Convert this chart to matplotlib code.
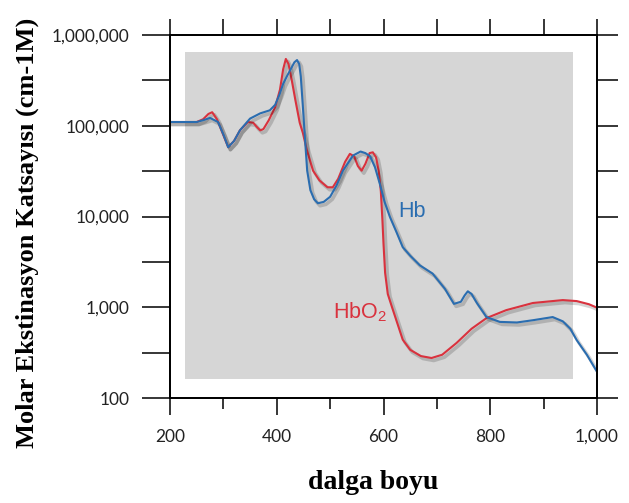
import numpy as np
import matplotlib
matplotlib.use("Agg")
import matplotlib.pyplot as plt
import matplotlib.patheffects as pe
from matplotlib.patches import Rectangle
from matplotlib.ticker import FixedLocator, NullFormatter

# ------------------------------------------------------------
# Data (wavelength nm, molar extinction)
# ------------------------------------------------------------
hb_wl = [200, 250, 262, 275, 290, 300, 309, 320, 331, 350, 369, 387, 397,
         405, 412, 420, 428, 433, 438, 442, 445, 449, 453, 457, 463, 470,
         477, 488, 500, 512, 524, 543, 557, 566, 575, 584, 593, 602, 612,
         624, 636, 650, 668, 692, 715, 732, 745, 752, 758, 765, 775, 793,
         818, 850, 880, 917, 936, 950, 962, 981, 1000]
hb_eps = [110000, 110000, 115000, 122000, 110000, 80000, 58000, 68000, 89000,
          120000, 137000, 148000, 170000, 220000, 290000, 360000, 440000,
          500000, 530000, 480000, 350000, 160000, 70000, 32000, 19500, 15500,
          14000, 14500, 16500, 22000, 32000, 47000, 52000, 50000, 46000,
          35000, 23000, 14500, 9900, 6800, 4600, 3700, 2900, 2350, 1600,
          1090, 1150, 1350, 1500, 1400, 1115, 780, 690, 680, 720, 780, 700,
          580, 435, 300, 195]

hbo2_wl = [200, 250, 262, 272, 279, 288, 296, 309, 320, 331, 346, 356, 362,
           369, 375, 385, 397, 406, 412, 417, 422, 428, 435, 443, 449, 456,
           468, 480, 495, 505, 515, 528, 537, 545, 552, 559, 566, 574, 580,
           586, 591, 595, 598, 600, 603, 608, 616, 636, 650, 670, 690, 710,
           737, 765, 793, 830, 880, 936, 962, 985, 1000]
hbo2_eps = [110000, 110000, 118000, 135000, 141000, 118000, 90000, 58000,
            68000, 89000, 110000, 108000, 98000, 89000, 92000, 115000, 160000,
            250000, 420000, 545000, 480000, 320000, 190000, 108000, 83000,
            55000, 32000, 25000, 21000, 21000, 26000, 40000, 49000, 46000,
            36000, 32000, 38000, 50000, 51000, 45000, 32000, 19000, 9000,
            5000, 2400, 1400, 1000, 440, 340, 290, 276, 300, 405, 580, 760,
            930, 1115, 1200, 1170, 1080, 990]

x_ticks = [200, 400, 600, 800, 1000]
x_ticklabels = ["200", "400", "600", "800", "1,000"]
y_ticks = [100, 1000, 10000, 100000, 1000000]
y_ticklabels = ["100", "1,000", "10,000", "100,000", "1,000,000"]

BLUE = "#2a6db0"
RED = "#d9323e"
BG_GRAY = "#d6d6d6"
TICK_FONT = "Lato"
LABEL_FONT = "Liberation Serif"

XLIM = (200, 1000)
YLIM = (100, 1000000)

plt.rcParams["mathtext.fontset"] = "custom"
plt.rcParams["mathtext.rm"] = "Liberation Sans"
plt.rcParams["mathtext.default"] = "rm"

fig = plt.figure(figsize=(6.29, 5.03), dpi=100)
ax = fig.add_axes([0.2703, 0.2087, 0.6788, 0.7217])
ax.set_yscale("log")
ax.set_xlim(*XLIM)
ax.set_ylim(*YLIM)

# gray plotting panel
ax.add_patch(Rectangle((228, 162), 955 - 228, 650000 - 162,
                       facecolor=BG_GRAY, edgecolor="none", zorder=0))

shadow = [pe.SimpleLineShadow(offset=(1.6, -1.8), shadow_color="black",
                              alpha=0.17, linewidth=2.6), pe.Normal()]
ax.plot(hbo2_wl, hbo2_eps, color=RED, lw=1.5, path_effects=shadow, zorder=3)
ax.plot(hb_wl, hb_eps, color=BLUE, lw=1.5, path_effects=shadow, zorder=4)

ax.text(627, 11500, "Hb", color=BLUE, fontsize=15.5, family="Liberation Sans",
        ha="left", va="center")
ax.text(505, 760, "HbO$_2$", color=RED, fontsize=15.5, family="Liberation Sans",
        ha="left", va="baseline")

# spines and ticks
for s in ax.spines.values():
    s.set_linewidth(1.1)
ax.xaxis.set_major_locator(FixedLocator(x_ticks))
ax.xaxis.set_minor_locator(FixedLocator([300, 500, 700, 900]))
ax.set_xticklabels(x_ticklabels)
ax.xaxis.set_minor_formatter(NullFormatter())
ax.yaxis.set_major_locator(FixedLocator(y_ticks))
ax.yaxis.set_minor_locator(FixedLocator([10 ** (k + 0.5) for k in range(2, 6)]))
ax.set_yticklabels(y_ticklabels)
ax.yaxis.set_minor_formatter(NullFormatter())
ax.tick_params(axis="x", which="major", direction="out", length=12, width=1.1, pad=10)
ax.tick_params(axis="x", which="minor", direction="out", length=8, width=1.1)
ax.tick_params(axis="y", which="both", direction="out", length=20, width=1.1, pad=9)
for lab in ax.get_xticklabels() + ax.get_yticklabels():
    lab.set_fontfamily(TICK_FONT)
    lab.set_fontsize(12.5)
    lab.set_color("#222222")

# top ticks (all same length)
axt = ax.twiny()
axt.set_xlim(*XLIM)
axt.xaxis.set_major_locator(FixedLocator(list(range(200, 1001, 100))))
axt.tick_params(axis="x", direction="out", length=11.5, width=1.1, labeltop=False)
# right ticks
axr = ax.twinx()
axr.set_yscale("log")
axr.set_ylim(*YLIM)
axr.yaxis.set_major_locator(FixedLocator([10 ** (k / 2) for k in range(4, 13)]))
axr.yaxis.set_minor_locator(FixedLocator([]))
axr.tick_params(axis="y", which="both", direction="out", length=15, width=1.1, labelright=False)
for a in (axt, axr):
    for s in a.spines.values():
        s.set_linewidth(1.1)

fig.text(0.043, 0.537, "Molar Ekstinasyon Katsayısı (cm-1M)", rotation=90,
         ha="center", va="center", fontsize=19, fontweight="bold", family=LABEL_FONT)
fig.text(0.593, 0.040, "dalga boyu", ha="center", va="center",
         fontsize=20, fontweight="bold", family=LABEL_FONT)

fig.savefig("out.png", dpi=100)
